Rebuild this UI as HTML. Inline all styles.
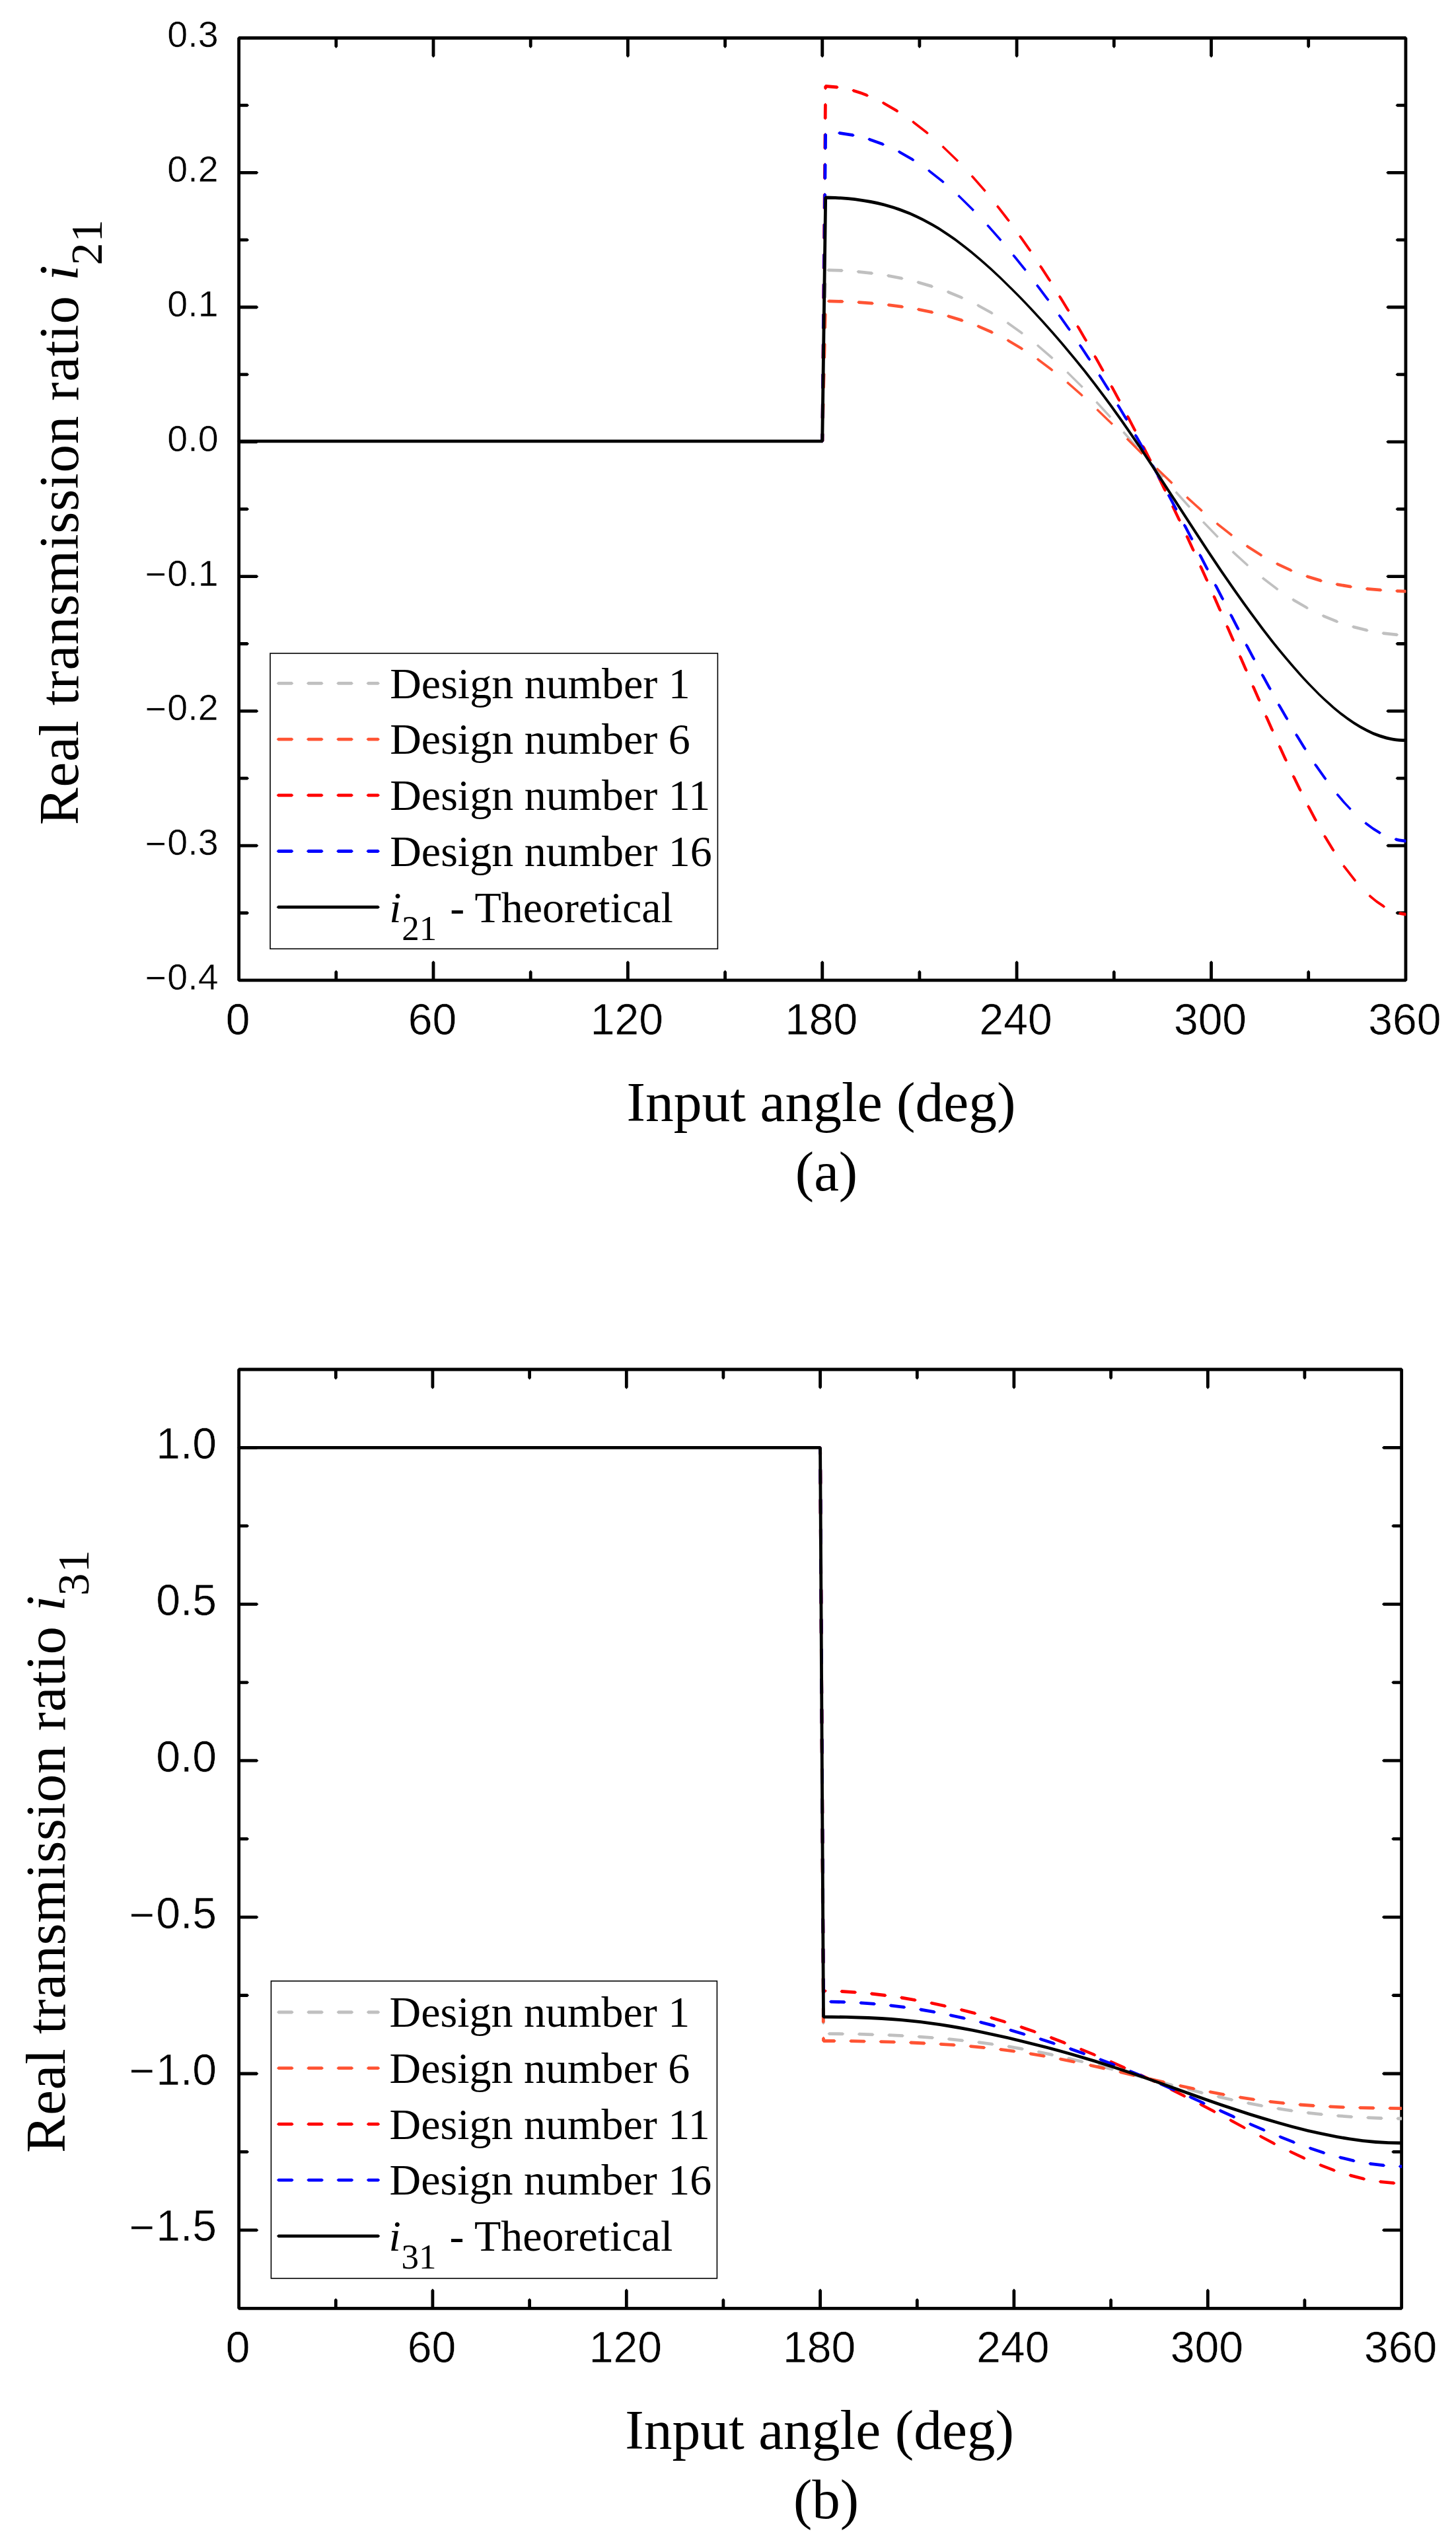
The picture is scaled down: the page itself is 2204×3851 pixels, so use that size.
<!DOCTYPE html>
<html lang="en"><head><meta charset="utf-8"><title>Real transmission ratio</title>
<style>html,body{margin:0;padding:0;background:#fff}svg{display:block}</style></head><body>
<svg width="2204" height="3851" viewBox="0 0 2204 3851">
<rect width="2204" height="3851" fill="#fff"/>
<path d="M359.2 57.5 361.6 55.1 2127.9 55.1 2130.3 57.5 2127.9 59.9 361.6 59.9ZM2127.9 55.1 2130.3 57.5 2130.3 1483.9 2127.9 1486.3 2125.5 1483.9 2125.5 57.5ZM359.2 1483.9 361.6 1481.5 2127.9 1481.5 2130.3 1483.9 2127.9 1486.3 361.6 1486.3ZM361.6 55.1 364 57.5 364 1483.9 361.6 1486.3 359.2 1483.9 359.2 57.5ZM508.8 1468.5 511.2 1470.9 511.2 1483.9 508.8 1486.3 506.4 1483.9 506.4 1470.9ZM508.8 55.1 511.2 57.5 511.2 70.5 508.8 72.9 506.4 70.5 506.4 57.5ZM656 1454.2 658.4 1456.6 658.4 1483.9 656 1486.3 653.6 1483.9 653.6 1456.6ZM656 55.1 658.4 57.5 658.4 84.8 656 87.2 653.6 84.8 653.6 57.5ZM803.2 1468.5 805.6 1470.9 805.6 1483.9 803.2 1486.3 800.8 1483.9 800.8 1470.9ZM803.2 55.1 805.6 57.5 805.6 70.5 803.2 72.9 800.8 70.5 800.8 57.5ZM950.4 1454.2 952.8 1456.6 952.8 1483.9 950.4 1486.3 948 1483.9 948 1456.6ZM950.4 55.1 952.8 57.5 952.8 84.8 950.4 87.2 948 84.8 948 57.5ZM1097.6 1468.5 1100 1470.9 1100 1483.9 1097.6 1486.3 1095.2 1483.9 1095.2 1470.9ZM1097.6 55.1 1100 57.5 1100 70.5 1097.6 72.9 1095.2 70.5 1095.2 57.5ZM1244.8 1454.2 1247.2 1456.6 1247.2 1483.9 1244.8 1486.3 1242.3 1483.9 1242.3 1456.6ZM1244.8 55.1 1247.2 57.5 1247.2 84.8 1244.8 87.2 1242.3 84.8 1242.3 57.5ZM1391.9 1468.5 1394.3 1470.9 1394.3 1483.9 1391.9 1486.3 1389.5 1483.9 1389.5 1470.9ZM1391.9 55.1 1394.3 57.5 1394.3 70.5 1391.9 72.9 1389.5 70.5 1389.5 57.5ZM1539.1 1454.2 1541.5 1456.6 1541.5 1483.9 1539.1 1486.3 1536.7 1483.9 1536.7 1456.6ZM1539.1 55.1 1541.5 57.5 1541.5 84.8 1539.1 87.2 1536.7 84.8 1536.7 57.5ZM1686.3 1468.5 1688.7 1470.9 1688.7 1483.9 1686.3 1486.3 1683.9 1483.9 1683.9 1470.9ZM1686.3 55.1 1688.7 57.5 1688.7 70.5 1686.3 72.9 1683.9 70.5 1683.9 57.5ZM1833.5 1454.2 1835.9 1456.6 1835.9 1483.9 1833.5 1486.3 1831.1 1483.9 1831.1 1456.6ZM1833.5 55.1 1835.9 57.5 1835.9 84.8 1833.5 87.2 1831.1 84.8 1831.1 57.5ZM1980.7 1468.5 1983.1 1470.9 1983.1 1483.9 1980.7 1486.3 1978.3 1483.9 1978.3 1470.9ZM1980.7 55.1 1983.1 57.5 1983.1 70.5 1980.7 72.9 1978.3 70.5 1978.3 57.5ZM359.2 261.3 361.6 258.9 388.9 258.9 391.3 261.3 388.9 263.7 361.6 263.7ZM2098.2 261.3 2100.6 258.9 2127.9 258.9 2130.3 261.3 2127.9 263.7 2100.6 263.7ZM359.2 465 361.6 462.6 388.9 462.6 391.3 465 388.9 467.4 361.6 467.4ZM2098.2 465 2100.6 462.6 2127.9 462.6 2130.3 465 2127.9 467.4 2100.6 467.4ZM359.2 668.8 361.6 666.4 388.9 666.4 391.3 668.8 388.9 671.2 361.6 671.2ZM2098.2 668.8 2100.6 666.4 2127.9 666.4 2130.3 668.8 2127.9 671.2 2100.6 671.2ZM359.2 872.6 361.6 870.2 388.9 870.2 391.3 872.6 388.9 875 361.6 875ZM2098.2 872.6 2100.6 870.2 2127.9 870.2 2130.3 872.6 2127.9 875 2100.6 875ZM359.2 1076.4 361.6 1074 388.9 1074 391.3 1076.4 388.9 1078.8 361.6 1078.8ZM2098.2 1076.4 2100.6 1074 2127.9 1074 2130.3 1076.4 2127.9 1078.8 2100.6 1078.8ZM359.2 1280.1 361.6 1277.7 388.9 1277.7 391.3 1280.1 388.9 1282.5 361.6 1282.5ZM2098.2 1280.1 2100.6 1277.7 2127.9 1277.7 2130.3 1280.1 2127.9 1282.5 2100.6 1282.5ZM359.2 159.4 361.6 157 374.6 157 377 159.4 374.6 161.8 361.6 161.8ZM2112.5 159.4 2114.9 157 2127.9 157 2130.3 159.4 2127.9 161.8 2114.9 161.8ZM359.2 363.2 361.6 360.8 374.6 360.8 377 363.2 374.6 365.6 361.6 365.6ZM2112.5 363.2 2114.9 360.8 2127.9 360.8 2130.3 363.2 2127.9 365.6 2114.9 365.6ZM359.2 566.9 361.6 564.5 374.6 564.5 377 566.9 374.6 569.3 361.6 569.3ZM2112.5 566.9 2114.9 564.5 2127.9 564.5 2130.3 566.9 2127.9 569.3 2114.9 569.3ZM359.2 770.7 361.6 768.3 374.6 768.3 377 770.7 374.6 773.1 361.6 773.1ZM2112.5 770.7 2114.9 768.3 2127.9 768.3 2130.3 770.7 2127.9 773.1 2114.9 773.1ZM359.2 974.5 361.6 972.1 374.6 972.1 377 974.5 374.6 976.9 361.6 976.9ZM2112.5 974.5 2114.9 972.1 2127.9 972.1 2130.3 974.5 2127.9 976.9 2114.9 976.9ZM359.2 1178.2 361.6 1175.8 374.6 1175.8 377 1178.2 374.6 1180.6 361.6 1180.6ZM2112.5 1178.2 2114.9 1175.8 2127.9 1175.8 2130.3 1178.2 2127.9 1180.6 2114.9 1180.6ZM359.2 1382 361.6 1379.6 374.6 1379.6 377 1382 374.6 1384.4 361.6 1384.4ZM2112.5 1382 2114.9 1379.6 2127.9 1379.6 2130.3 1382 2127.9 1384.4 2114.9 1384.4Z" fill="#000"/>
<clipPath id="clipa"><rect x="359.1" y="57.5" width="1769.3" height="1426.4"/></clipPath>
<g clip-path="url(#clipa)">
<path d="M1245 653.9 1247.4 656.3 1247.2 667.8 1244.8 670.2 1242.3 667.8 1242.6 656.3ZM1245.8 608.5 1248.2 610.9 1247.8 631.9 1245.4 634.3 1243 631.9 1243.4 610.9ZM1246.7 563.1 1249.1 565.5 1248.7 586.5 1246.3 588.9 1243.9 586.5 1244.3 565.5ZM1247.5 517.7 1249.9 520.1 1249.5 541.1 1247.1 543.5 1244.7 541.1 1245.1 520.1ZM1248.4 472.3 1250.8 474.7 1250.4 495.7 1248 498.1 1245.6 495.7 1246 474.7ZM1249.3 426.9 1251.7 429.3 1251.3 450.3 1248.9 452.7 1246.5 450.3 1246.9 429.3ZM1251.1 408.9 1253.5 406.5 1274.5 407.1 1276.9 409.5 1274.5 411.9 1253.5 411.3ZM1296.5 411.3 1298.9 408.9 1319.9 411.2 1322.3 413.6 1319.9 416 1298.9 413.7ZM1341.9 417.3 1344.3 414.9 1365.3 419 1367.7 421.4 1365.3 423.8 1344.3 419.7ZM1387.3 427.3 1389.7 424.9 1410.7 431.1 1413.1 433.5 1410.7 435.9 1389.7 429.7ZM1432.7 442 1435.1 439.6 1456.1 448.2 1458.5 450.6 1456.1 453 1435.1 444.4ZM1478.1 462.3 1480.5 459.9 1501.5 471.5 1503.9 473.9 1501.5 476.3 1480.5 464.7ZM1523.4 489.2 1525.8 486.8 1546.8 501.7 1549.2 504.1 1546.8 506.5 1525.8 491.6ZM1568.8 523.3 1571.2 520.9 1592.2 539.1 1594.6 541.5 1592.2 543.9 1571.2 525.7ZM1614.2 564.3 1616.6 561.9 1637.5 582.7 1639.9 585.1 1637.5 587.5 1616.6 566.7ZM1660.7 607.1 1663.1 609.5 1682.3 630.5 1679.9 632.9 1677.5 630.5 1658.3 609.5ZM1701.6 652.5 1704 654.9 1722.4 675.9 1720 678.3 1717.6 675.9 1699.2 654.9ZM1741.2 697.9 1743.6 700.3 1761.9 721.3 1759.5 723.7 1757.1 721.3 1738.8 700.3ZM1780.9 743.3 1783.3 745.7 1802.2 766.7 1799.8 769.1 1797.4 766.7 1778.5 745.7ZM1822.3 788.7 1824.7 791.1 1844.9 812.1 1842.5 814.5 1840.1 812.1 1819.9 791.1ZM1864.5 836 1866.9 833.6 1887.9 852.8 1890.3 855.2 1887.9 857.6 1866.9 838.4ZM1909.8 875.7 1912.2 873.3 1933.2 889.2 1935.6 891.6 1933.2 894 1912.2 878.1ZM1955.2 908 1957.6 905.6 1978.6 917.8 1981 920.2 1978.6 922.6 1957.6 910.4ZM2000.6 932.3 2003 929.9 2024 938.5 2026.4 940.9 2024 943.3 2003 934.7ZM2046 948.9 2048.4 946.5 2069.4 951.8 2071.8 954.2 2069.4 956.6 2048.4 951.3ZM2091.4 958.6 2093.8 956.2 2114.8 958.4 2117.2 960.8 2114.8 963.2 2093.8 961Z" fill="#C0C0C0"/>
<path d="M1245 654.1 1247.4 656.5 1247.2 667.8 1244.8 670.2 1242.3 667.8 1242.6 656.5ZM1246.1 608.8 1248.5 611.2 1248 632.2 1245.6 634.6 1243.2 632.2 1243.7 611.2ZM1247.1 563.6 1249.5 566 1249 587 1246.6 589.4 1244.2 587 1244.7 566ZM1248.2 518.3 1250.6 520.7 1250.1 541.7 1247.7 544.1 1245.3 541.7 1245.8 520.7ZM1249.2 473 1251.6 475.4 1251.1 496.4 1248.7 498.8 1246.3 496.4 1246.8 475.4ZM1251.9 455.9 1254.3 453.5 1275.3 454 1277.7 456.4 1275.3 458.8 1254.3 458.3ZM1297.2 457.6 1299.6 455.2 1320.6 456.8 1323 459.2 1320.6 461.6 1299.6 460ZM1342.5 461.7 1344.9 459.3 1365.9 462 1368.3 464.4 1365.9 466.8 1344.9 464.1ZM1387.7 468.4 1390.1 466 1411.1 470.3 1413.5 472.7 1411.1 475.1 1390.1 470.8ZM1433 478.7 1435.4 476.3 1456.4 482.6 1458.8 485 1456.4 487.4 1435.4 481.1ZM1478.3 493.9 1480.7 491.5 1501.7 500.6 1504.1 503 1501.7 505.4 1480.7 496.3ZM1523.5 515.4 1525.9 513 1546.9 525.4 1549.3 527.8 1546.9 530.2 1525.9 517.8ZM1568.8 544.1 1571.2 541.7 1592.2 557.5 1594.6 559.9 1592.2 562.3 1571.2 546.5ZM1614.1 579.7 1616.5 577.3 1637.5 595.8 1639.9 598.2 1637.5 600.6 1616.5 582.1ZM1659.3 620.8 1661.7 618.4 1682.7 638.7 1685.1 641.1 1682.7 643.5 1661.7 623.2ZM1704.6 665.1 1707 662.7 1728 683.6 1730.4 686 1728 688.4 1707 667.5ZM1749.8 710.1 1752.2 707.7 1773.2 728.1 1775.6 730.5 1773.2 732.9 1752.2 712.5ZM1795.1 753.5 1797.5 751.1 1818.5 770.1 1820.9 772.5 1818.5 774.9 1797.5 755.9ZM1840.4 793.1 1842.8 790.7 1863.8 807.2 1866.2 809.6 1863.8 812 1842.8 795.5ZM1885.6 827 1888 824.6 1909 837.9 1911.4 840.3 1909 842.7 1888 829.4ZM1930.9 853.7 1933.3 851.3 1954.3 861 1956.7 863.4 1954.3 865.8 1933.3 856.1ZM1976.2 872.7 1978.6 870.3 1999.6 876.6 2002 879 1999.6 881.4 1978.6 875.1ZM2021.4 884.6 2023.8 882.2 2044.8 885.8 2047.2 888.2 2044.8 890.6 2023.8 887ZM2066.7 891.3 2069.1 888.9 2090.1 890.8 2092.5 893.2 2090.1 895.6 2069.1 893.7ZM2112 894.6 2114.4 892.2 2127.9 892.8 2130.3 895.2 2127.9 897.6 2114.4 897Z" fill="#FF5333"/>
<path d="M1244.8 655.2 1247.2 657.6 1247.2 667.8 1244.8 670.2 1242.3 667.8 1242.4 657.6ZM1245.3 609.8 1247.7 612.2 1247.5 633.2 1245.1 635.6 1242.7 633.2 1242.9 612.2ZM1245.7 564.4 1248.1 566.8 1247.9 587.8 1245.5 590.2 1243.1 587.8 1243.3 566.8ZM1246.1 519 1248.5 521.4 1248.3 542.4 1245.9 544.8 1243.5 542.4 1243.7 521.4ZM1246.5 473.6 1248.9 476 1248.7 497 1246.3 499.4 1243.9 497 1244.1 476ZM1246.9 428.2 1249.3 430.6 1249.1 451.6 1246.7 454 1244.3 451.6 1244.5 430.6ZM1247.3 382.8 1249.7 385.2 1249.5 406.2 1247.1 408.6 1244.7 406.2 1244.9 385.2ZM1247.7 337.4 1250.1 339.8 1250 360.8 1247.6 363.2 1245.2 360.8 1245.3 339.8ZM1248.2 292 1250.6 294.4 1250.4 315.4 1248 317.8 1245.6 315.4 1245.8 294.4ZM1248.6 246.6 1251 249 1250.8 270 1248.4 272.4 1246 270 1246.2 249ZM1249 201.2 1251.4 203.6 1251.2 224.6 1248.8 227 1246.4 224.6 1246.6 203.6ZM1249.4 155.8 1251.8 158.2 1251.6 179.2 1249.2 181.6 1246.8 179.2 1247 158.2ZM1249.7 128.1 1252.1 130.5 1252 133.8 1249.6 136.2 1247.2 133.8 1247.3 130.5ZM1247.3 130.5 1249.7 128.1 1267.3 129.6 1269.7 132 1267.3 134.4 1249.7 132.9ZM1289.3 137.1 1291.7 134.7 1303.6 138.5 1306 140.9 1303.6 143.3 1291.7 139.5ZM1301.2 140.9 1303.6 138.5 1312.7 142 1315.1 144.4 1312.7 146.8 1303.6 143.3ZM1334.7 155.8 1337.1 153.4 1358.1 165.6 1360.5 168 1358.1 170.4 1337.1 158.2ZM1380.1 184.8 1382.5 182.4 1403.5 198.8 1405.9 201.2 1403.5 203.6 1382.5 187.2ZM1425.5 222.6 1427.9 220.2 1448.9 240.5 1451.3 242.9 1448.9 245.3 1427.9 225ZM1472 264.9 1474.4 267.3 1492.8 288.3 1490.4 290.7 1488 288.3 1469.6 267.3ZM1510.4 310.3 1512.8 312.7 1529 333.7 1526.6 336.1 1524.2 333.7 1508 312.7ZM1544.4 355.7 1546.8 358.1 1561.5 379.1 1559.1 381.5 1556.7 379.1 1542 358.1ZM1575.4 401.1 1577.8 403.5 1591.4 424.5 1589 426.9 1586.6 424.5 1573 403.5ZM1604.3 446.5 1606.7 448.9 1619.5 469.9 1617.1 472.3 1614.7 469.9 1601.9 448.9ZM1631.6 491.9 1634 494.3 1646.2 515.3 1643.8 517.7 1641.4 515.3 1629.2 494.3ZM1657.7 537.3 1660.1 539.7 1671.8 560.7 1669.4 563.1 1667 560.7 1655.3 539.7ZM1682.8 582.7 1685.2 585.1 1696.5 606.1 1694.1 608.5 1691.7 606.1 1680.4 585.1ZM1707.1 628.1 1709.5 630.5 1720.4 651.5 1718 653.9 1715.6 651.5 1704.7 630.5ZM1730.6 673.5 1733 675.9 1743.6 696.9 1741.2 699.3 1738.8 696.9 1728.2 675.9ZM1753.3 718.9 1755.7 721.3 1766 742.3 1763.6 744.7 1761.2 742.3 1750.9 721.3ZM1775.4 764.3 1777.8 766.7 1787.8 787.7 1785.4 790.1 1783 787.7 1773 766.7ZM1796.8 809.7 1799.2 812.1 1808.8 833.1 1806.4 835.5 1804 833.1 1794.4 812.1ZM1817.5 855.1 1819.9 857.5 1829.4 878.5 1827 880.9 1824.6 878.5 1815.1 857.5ZM1837.8 900.5 1840.2 902.9 1849.4 923.9 1847 926.3 1844.6 923.9 1835.4 902.9ZM1857.7 945.9 1860.1 948.3 1869.2 969.3 1866.8 971.7 1864.4 969.3 1855.3 948.3ZM1877.3 991.3 1879.7 993.7 1888.8 1014.7 1886.4 1017.1 1884 1014.7 1874.9 993.7ZM1896.9 1036.7 1899.3 1039.1 1908.5 1060.1 1906.1 1062.5 1903.7 1060.1 1894.5 1039.1ZM1916.7 1082.1 1919.1 1084.5 1928.4 1105.5 1926 1107.9 1923.6 1105.5 1914.3 1084.5ZM1937 1127.5 1939.4 1129.9 1949 1150.9 1946.6 1153.3 1944.2 1150.9 1934.6 1129.9ZM1958.1 1172.9 1960.5 1175.3 1970.7 1196.3 1968.3 1198.7 1965.9 1196.3 1955.7 1175.3ZM1980.6 1218.3 1983 1220.7 1994.1 1241.7 1991.7 1244.1 1989.3 1241.7 1978.2 1220.7ZM2005.5 1263.7 2007.9 1266.1 2020.6 1287.1 2018.2 1289.5 2015.8 1287.1 2003.1 1266.1ZM2034.6 1309.1 2037 1311.5 2053.3 1332.5 2050.9 1334.9 2048.5 1332.5 2032.2 1311.5ZM2071.4 1356.5 2073.8 1354.1 2083.7 1362.3 2086.1 1364.7 2083.7 1367.1 2073.8 1358.9ZM2081.3 1364.7 2083.7 1362.3 2094.8 1369.8 2097.2 1372.2 2094.8 1374.6 2083.7 1367.1ZM2116.8 1382.6 2119.2 1380.2 2127.9 1381.8 2130.3 1384.2 2127.9 1386.6 2119.2 1385Z" fill="#FF0000"/>
<path d="M1244.9 654.6 1247.3 657 1247.2 667.8 1244.8 670.2 1242.3 667.8 1242.5 657ZM1245.3 609.2 1247.7 611.6 1247.5 632.6 1245.1 635 1242.7 632.6 1242.9 611.6ZM1245.8 563.9 1248.2 566.3 1248 587.3 1245.6 589.7 1243.2 587.3 1243.4 566.3ZM1246.3 518.6 1248.7 521 1248.5 542 1246.1 544.4 1243.7 542 1243.9 521ZM1246.8 473.2 1249.2 475.6 1248.9 496.6 1246.5 499 1244.1 496.6 1244.4 475.6ZM1247.2 427.9 1249.6 430.3 1249.4 451.3 1247 453.7 1244.6 451.3 1244.8 430.3ZM1247.7 382.6 1250.1 385 1249.9 406 1247.5 408.4 1245.1 406 1245.3 385ZM1248.2 337.2 1250.6 339.6 1250.4 360.6 1248 363 1245.6 360.6 1245.8 339.6ZM1248.7 291.9 1251.1 294.3 1250.8 315.3 1248.4 317.7 1246 315.3 1246.3 294.3ZM1249.1 246.6 1251.5 249 1251.3 270 1248.9 272.4 1246.5 270 1246.7 249ZM1249.6 201.2 1252 203.6 1251.8 224.6 1249.4 227 1247 224.6 1247.2 203.6ZM1268 201.4 1270.4 199 1291.4 202.3 1293.8 204.7 1291.4 207.1 1270.4 203.8ZM1313.3 210.9 1315.7 208.5 1336.7 216 1339.1 218.4 1336.7 220.8 1315.7 213.3ZM1358.7 229.8 1361.1 227.4 1382.1 239.5 1384.5 241.9 1382.1 244.3 1361.1 232.2ZM1404 258.6 1406.4 256.2 1427.4 272.8 1429.8 275.2 1427.4 277.6 1406.4 261ZM1449.3 296.9 1451.7 294.5 1472.6 315.1 1475 317.5 1472.6 319.9 1451.7 299.3ZM1495.6 339.4 1498 341.8 1516.5 362.8 1514.1 365.2 1511.7 362.8 1493.2 341.8ZM1534.6 384.7 1537 387.1 1553.9 408.1 1551.5 410.5 1549.1 408.1 1532.2 387.1ZM1570.4 430.1 1572.8 432.5 1588.5 453.5 1586.1 455.9 1583.7 453.5 1568 432.5ZM1603.8 475.4 1606.2 477.8 1621 498.8 1618.6 501.2 1616.2 498.8 1601.4 477.8ZM1635.2 520.7 1637.6 523.1 1651.4 544.1 1649 546.5 1646.6 544.1 1632.8 523.1ZM1664.7 566.1 1667.1 568.5 1680.2 589.5 1677.8 591.9 1675.4 589.5 1662.3 568.5ZM1692.6 611.4 1695 613.8 1707.5 634.8 1705.1 637.2 1702.7 634.8 1690.2 613.8ZM1719.1 656.7 1721.5 659.1 1733.5 680.1 1731.1 682.5 1728.7 680.1 1716.7 659.1ZM1744.6 702.1 1747 704.5 1758.5 725.5 1756.1 727.9 1753.7 725.5 1742.2 704.5ZM1769.2 747.4 1771.6 749.8 1782.7 770.8 1780.3 773.2 1777.9 770.8 1766.8 749.8ZM1793.1 792.7 1795.5 795.1 1806.5 816.1 1804.1 818.5 1801.7 816.1 1790.7 795.1ZM1816.7 838.1 1819.1 840.5 1829.9 861.5 1827.5 863.9 1825.1 861.5 1814.3 840.5ZM1840 883.4 1842.4 885.8 1853.2 906.8 1850.8 909.2 1848.4 906.8 1837.6 885.8ZM1863.4 928.7 1865.8 931.1 1876.6 952.1 1874.2 954.5 1871.8 952.1 1861 931.1ZM1886.9 974.1 1889.3 976.5 1900.4 997.5 1898 999.9 1895.6 997.5 1884.5 976.5ZM1911 1019.4 1913.4 1021.8 1924.9 1042.8 1922.5 1045.2 1920.1 1042.8 1908.6 1021.8ZM1936 1064.7 1938.4 1067.1 1950.5 1088.1 1948.1 1090.5 1945.7 1088.1 1933.6 1067.1ZM1962.5 1110.1 1964.9 1112.5 1977.8 1133.5 1975.4 1135.9 1973 1133.5 1960.1 1112.5ZM1991.3 1155.4 1993.7 1157.8 2008.5 1178.8 2006.1 1181.2 2003.7 1178.8 1988.9 1157.8ZM2024.8 1200.7 2027.2 1203.1 2037.1 1214.7 2034.7 1217.1 2032.3 1214.7 2022.4 1203.1ZM2034.7 1212.3 2037.1 1214.7 2045.8 1224.1 2043.4 1226.5 2041 1224.1 2032.3 1214.7ZM2065.2 1246.4 2067.6 1244 2078.8 1252.2 2081.2 1254.6 2078.8 1257 2067.6 1248.8ZM2076.4 1254.6 2078.8 1252.2 2088.6 1258.2 2091 1260.6 2088.6 1263 2078.8 1257ZM2110.5 1270.6 2112.9 1268.2 2118.1 1269.4 2120.5 1271.8 2118.1 1274.2 2112.9 1273ZM2115.7 1271.8 2118.1 1269.4 2127.9 1270.7 2130.3 1273.1 2127.9 1275.5 2118.1 1274.2Z" fill="#0000FF"/>
<path d="M359.2 667.8 361.6 665.4 1244.8 665.4 1247.2 667.8 1244.8 670.2 361.6 670.2ZM1249.7 296.6 1252.1 299 1247.2 667.8 1244.8 670.2 1242.3 667.8 1247.3 299ZM1247.3 299 1249.7 296.6 1264.4 297 1266.8 299.4 1264.4 301.8 1249.7 301.4ZM1262 299.4 1264.4 297 1274.2 297.5 1276.6 299.9 1274.2 302.3 1264.4 301.8ZM1271.8 299.9 1274.2 297.5 1284 298.3 1286.4 300.7 1284 303.1 1274.2 302.3ZM1281.6 300.7 1284 298.3 1293.8 299.3 1296.2 301.7 1293.8 304.1 1284 303.1ZM1291.4 301.7 1293.8 299.3 1308.5 301.4 1310.9 303.8 1308.5 306.2 1293.8 304.1ZM1306.1 303.8 1308.5 301.4 1318.3 303.1 1320.7 305.5 1318.3 307.9 1308.5 306.2ZM1315.9 305.5 1318.3 303.1 1328.2 305.1 1330.6 307.5 1328.2 309.9 1318.3 307.9ZM1325.8 307.5 1328.2 305.1 1338 307.5 1340.4 309.9 1338 312.3 1328.2 309.9ZM1335.6 309.9 1338 307.5 1352.7 311.7 1355.1 314.1 1352.7 316.5 1338 312.3ZM1350.3 314.1 1352.7 311.7 1362.5 315.1 1364.9 317.5 1362.5 319.9 1352.7 316.5ZM1360.1 317.5 1362.5 315.1 1377.2 320.8 1379.6 323.2 1377.2 325.6 1362.5 319.9ZM1374.8 323.2 1377.2 320.8 1387 325.2 1389.4 327.6 1387 330 1377.2 325.6ZM1384.6 327.6 1387 325.2 1396.8 329.9 1399.2 332.3 1396.8 334.7 1387 330ZM1394.4 332.3 1396.8 329.9 1411.6 337.9 1414 340.3 1411.6 342.7 1396.8 334.7ZM1409.2 340.3 1411.6 337.9 1421.4 343.8 1423.8 346.2 1421.4 348.6 1411.6 342.7ZM1419 346.2 1421.4 343.8 1436.1 353.4 1438.5 355.8 1436.1 358.2 1421.4 348.6ZM1433.7 355.8 1436.1 353.4 1445.9 360.3 1448.3 362.7 1445.9 365.1 1436.1 358.2ZM1443.5 362.7 1445.9 360.3 1460.6 371.4 1463 373.8 1460.6 376.2 1445.9 365.1ZM1458.2 373.8 1460.6 371.4 1470.4 379.3 1472.8 381.7 1470.4 384.1 1460.6 376.2ZM1468 381.7 1470.4 379.3 1485.2 391.7 1487.6 394.1 1485.2 396.5 1470.4 384.1ZM1482.8 394.1 1485.2 391.7 1499.9 404.8 1502.3 407.2 1499.9 409.6 1485.2 396.5ZM1497.5 407.2 1499.9 404.8 1514.6 418.5 1517 420.9 1514.6 423.3 1499.9 409.6ZM1512.2 420.9 1514.6 418.5 1529.3 432.9 1531.7 435.3 1529.3 437.7 1514.6 423.3ZM1529.3 432.9 1531.7 435.3 1546.4 450.1 1544 452.5 1541.6 450.1 1526.9 435.3ZM1544 447.7 1546.4 450.1 1561.2 465.4 1558.8 467.8 1556.4 465.4 1541.6 450.1ZM1558.8 463 1561.2 465.4 1580.8 486.7 1578.4 489.1 1576 486.7 1556.4 465.4ZM1578.4 484.3 1580.8 486.7 1595.5 503.2 1593.1 505.6 1590.7 503.2 1576 486.7ZM1593.1 500.8 1595.5 503.2 1610.2 520.2 1607.8 522.6 1605.4 520.2 1590.7 503.2ZM1607.8 517.8 1610.2 520.2 1629.8 543.7 1627.4 546.1 1625 543.7 1605.4 520.2ZM1627.4 541.3 1629.8 543.7 1644.6 562 1642.2 564.4 1639.8 562 1625 543.7ZM1642.2 559.6 1644.6 562 1659.3 580.9 1656.9 583.3 1654.5 580.9 1639.8 562ZM1656.9 578.5 1659.3 580.9 1674 600.4 1671.6 602.8 1669.2 600.4 1654.5 580.9ZM1671.6 598 1674 600.4 1683.8 613.8 1681.4 616.2 1679 613.8 1669.2 600.4ZM1681.4 611.4 1683.8 613.8 1698.5 634.3 1696.1 636.7 1693.7 634.3 1679 613.8ZM1696.1 631.9 1698.5 634.3 1713.3 655.4 1710.9 657.8 1708.5 655.4 1693.7 634.3ZM1710.9 653 1713.3 655.4 1728 677 1725.6 679.4 1723.2 677 1708.5 655.4ZM1725.6 674.6 1728 677 1757.4 721.4 1755 723.8 1752.6 721.4 1723.2 677ZM1755 719 1757.4 721.4 1811.4 804.5 1809 806.9 1806.6 804.5 1752.6 721.4ZM1809 802.1 1811.4 804.5 1831 834.4 1828.6 836.8 1826.2 834.4 1806.6 804.5ZM1828.6 832 1831 834.4 1850.6 863.7 1848.2 866.1 1845.8 863.7 1826.2 834.4ZM1848.2 861.3 1850.6 863.7 1870.3 892.2 1867.9 894.6 1865.5 892.2 1845.8 863.7ZM1867.9 889.8 1870.3 892.2 1885 913.1 1882.6 915.5 1880.2 913.1 1865.5 892.2ZM1882.6 910.7 1885 913.1 1894.8 926.6 1892.4 929 1890 926.6 1880.2 913.1ZM1892.4 924.2 1894.8 926.6 1914.4 953 1912 955.4 1909.6 953 1890 926.6ZM1912 950.6 1914.4 953 1929.1 971.9 1926.7 974.3 1924.3 971.9 1909.6 953ZM1926.7 969.5 1929.1 971.9 1939 984.2 1936.6 986.6 1934.2 984.2 1924.3 971.9ZM1936.6 981.8 1939 984.2 1948.8 996.1 1946.4 998.5 1944 996.1 1934.2 984.2ZM1946.4 993.7 1948.8 996.1 1958.6 1007.6 1956.2 1010 1953.8 1007.6 1944 996.1ZM1956.2 1005.2 1958.6 1007.6 1973.3 1024.2 1970.9 1026.6 1968.5 1024.2 1953.8 1007.6ZM1970.9 1021.8 1973.3 1024.2 1983.1 1034.8 1980.7 1037.2 1978.3 1034.8 1968.5 1024.2ZM1980.7 1032.4 1983.1 1034.8 1997.8 1049.8 1995.4 1052.2 1993 1049.8 1978.3 1034.8ZM1993 1049.8 1995.4 1047.4 2005.2 1056.8 2007.6 1059.2 2005.2 1061.6 1995.4 1052.2ZM2002.8 1059.2 2005.2 1056.8 2015.1 1065.6 2017.5 1068 2015.1 1070.4 2005.2 1061.6ZM2012.7 1068 2015.1 1065.6 2020 1069.9 2022.4 1072.3 2020 1074.7 2015.1 1070.4ZM2017.6 1072.3 2020 1069.9 2029.8 1077.9 2032.2 1080.3 2029.8 1082.7 2020 1074.7ZM2027.4 1080.3 2029.8 1077.9 2039.6 1085.3 2042 1087.7 2039.6 1090.1 2029.8 1082.7ZM2037.2 1087.7 2039.6 1085.3 2049.4 1092 2051.8 1094.4 2049.4 1096.8 2039.6 1090.1ZM2047 1094.4 2049.4 1092 2059.2 1098 2061.6 1100.4 2059.2 1102.8 2049.4 1096.8ZM2056.8 1100.4 2059.2 1098 2069 1103.3 2071.4 1105.7 2069 1108.1 2059.2 1102.8ZM2066.6 1105.7 2069 1103.3 2078.8 1107.9 2081.2 1110.3 2078.8 1112.7 2069 1108.1ZM2076.4 1110.3 2078.8 1107.9 2088.6 1111.6 2091 1114 2088.6 1116.4 2078.8 1112.7ZM2086.2 1114 2088.6 1111.6 2098.5 1114.6 2100.9 1117 2098.5 1119.4 2088.6 1116.4ZM2096.1 1117 2098.5 1114.6 2103.4 1115.7 2105.8 1118.1 2103.4 1120.5 2098.5 1119.4ZM2101 1118.1 2103.4 1115.7 2108.3 1116.7 2110.7 1119.1 2108.3 1121.5 2103.4 1120.5ZM2105.9 1119.1 2108.3 1116.7 2113.2 1117.4 2115.6 1119.8 2113.2 1122.2 2108.3 1121.5ZM2110.8 1119.8 2113.2 1117.4 2118.1 1117.9 2120.5 1120.3 2118.1 1122.7 2113.2 1122.2ZM2115.7 1120.3 2118.1 1117.9 2123 1118.2 2125.4 1120.6 2123 1123 2118.1 1122.7ZM2120.6 1120.6 2123 1118.2 2127.9 1118.3 2130.3 1120.7 2127.9 1123.1 2123 1123Z" fill="#000"/>
</g>
<g font-family="'Liberation Sans', Arial, sans-serif" font-size="55.5" text-anchor="end" stroke="#fff" stroke-width="0.5">
<text x="330.5" y="71.4">0.3</text>
<text x="330.5" y="275.1">0.2</text>
<text x="330.5" y="478.9">0.1</text>
<text x="330.5" y="682.7">0.0</text>
<text x="332.1" y="886.5"><tspan dx="-1.6" dy="1.6">−</tspan><tspan dx="1.6" dy="-1.6">0.1</tspan></text>
<text x="332.1" y="1090.2"><tspan dx="-1.6" dy="1.6">−</tspan><tspan dx="1.6" dy="-1.6">0.2</tspan></text>
<text x="332.1" y="1294.0"><tspan dx="-1.6" dy="1.6">−</tspan><tspan dx="1.6" dy="-1.6">0.3</tspan></text>
<text x="332.1" y="1497.8"><tspan dx="-1.6" dy="1.6">−</tspan><tspan dx="1.6" dy="-1.6">0.4</tspan></text>
</g>
<g font-family="'Liberation Sans', Arial, sans-serif" font-size="66" text-anchor="middle" stroke="#fff" stroke-width="0.5">
<text x="360.1" y="1565.5">0</text>
<text x="654.5" y="1565.5">60</text>
<text x="948.9" y="1565.5">120</text>
<text x="1243.2" y="1565.5">180</text>
<text x="1537.6" y="1565.5">240</text>
<text x="1832.0" y="1565.5">300</text>
<text x="2126.4" y="1565.5">360</text>
</g>
<rect x="409.0" y="989.0" width="677.4" height="447.3" fill="#fff" stroke="#000" stroke-width="1.6"/>
<g font-family="'Liberation Serif', 'Times New Roman', serif" font-size="66">
<path d="M418.6 1034.4 421 1032 442 1032 444.4 1034.4 442 1036.8 421 1036.8ZM463.9 1034.4 466.3 1032 487.3 1032 489.7 1034.4 487.3 1036.8 466.3 1036.8ZM509.2 1034.4 511.6 1032 532.6 1032 535 1034.4 532.6 1036.8 511.6 1036.8ZM554.5 1034.4 556.9 1032 572.6 1032 575 1034.4 572.6 1036.8 556.9 1036.8Z" fill="#C0C0C0"/>
<text x="590.2" y="1056.7">Design number 1</text>
<path d="M418.6 1119.1 421 1116.7 442 1116.7 444.4 1119.1 442 1121.5 421 1121.5ZM463.9 1119.1 466.3 1116.7 487.3 1116.7 489.7 1119.1 487.3 1121.5 466.3 1121.5ZM509.2 1119.1 511.6 1116.7 532.6 1116.7 535 1119.1 532.6 1121.5 511.6 1121.5ZM554.5 1119.1 556.9 1116.7 572.6 1116.7 575 1119.1 572.6 1121.5 556.9 1121.5Z" fill="#FF5333"/>
<text x="590.2" y="1141.4">Design number 6</text>
<path d="M418.6 1203.8 421 1201.4 442 1201.4 444.4 1203.8 442 1206.2 421 1206.2ZM463.9 1203.8 466.3 1201.4 487.3 1201.4 489.7 1203.8 487.3 1206.2 466.3 1206.2ZM509.2 1203.8 511.6 1201.4 532.6 1201.4 535 1203.8 532.6 1206.2 511.6 1206.2ZM554.5 1203.8 556.9 1201.4 572.6 1201.4 575 1203.8 572.6 1206.2 556.9 1206.2Z" fill="#FF0000"/>
<text x="590.2" y="1226.1">Design number 11</text>
<path d="M418.6 1288.5 421 1286.1 442 1286.1 444.4 1288.5 442 1290.9 421 1290.9ZM463.9 1288.5 466.3 1286.1 487.3 1286.1 489.7 1288.5 487.3 1290.9 466.3 1290.9ZM509.2 1288.5 511.6 1286.1 532.6 1286.1 535 1288.5 532.6 1290.9 511.6 1290.9ZM554.5 1288.5 556.9 1286.1 572.6 1286.1 575 1288.5 572.6 1290.9 556.9 1290.9Z" fill="#0000FF"/>
<text x="590.2" y="1310.8">Design number 16</text>
<path d="M418.6 1373.2 421 1370.8 572.6 1370.8 575 1373.2 572.6 1375.6 421 1375.6Z" fill="#000"/>
<text x="589.2" y="1395.5" font-style="italic">i</text>
<text x="608.2" y="1422.7" font-size="53">21</text>
<text x="681.2" y="1395.5">- Theoretical</text>
</g>
<g transform="translate(118.0 1249.0) rotate(-90)" font-family="'Liberation Serif', 'Times New Roman', serif" font-size="85">
<text x="0" y="0" textLength="801.0" lengthAdjust="spacing">Real transmission ratio</text>
<text x="824.0" y="0" font-style="italic">i</text>
<text x="847.5" y="35.6" font-size="68">2</text>
<text x="882.5" y="35.6" font-size="68">1</text>
</g>
<g font-family="'Liberation Serif', 'Times New Roman', serif" font-size="85" text-anchor="middle">
<text x="1243.0" y="1697.4" font-size="85.5">Input angle (deg)</text>
<text x="1251.0" y="1802.0">(a)</text>
</g>
<path d="M359.2 2073 361.6 2070.6 2121.6 2070.6 2124 2073 2121.6 2075.4 361.6 2075.4ZM2121.6 2070.6 2124 2073 2124 3494.3 2121.6 3496.7 2119.2 3494.3 2119.2 2073ZM359.2 3494.3 361.6 3491.9 2121.6 3491.9 2124 3494.3 2121.6 3496.7 361.6 3496.7ZM361.6 2070.6 364 2073 364 3494.3 361.6 3496.7 359.2 3494.3 359.2 2073ZM508.3 3478.9 510.7 3481.3 510.7 3494.3 508.3 3496.7 505.9 3494.3 505.9 3481.3ZM508.3 2070.6 510.7 2073 510.7 2086 508.3 2088.4 505.9 2086 505.9 2073ZM654.9 3464.6 657.3 3467 657.3 3494.3 654.9 3496.7 652.5 3494.3 652.5 3467ZM654.9 2070.6 657.3 2073 657.3 2100.3 654.9 2102.7 652.5 2100.3 652.5 2073ZM801.6 3478.9 804 3481.3 804 3494.3 801.6 3496.7 799.2 3494.3 799.2 3481.3ZM801.6 2070.6 804 2073 804 2086 801.6 2088.4 799.2 2086 799.2 2073ZM948.3 3464.6 950.7 3467 950.7 3494.3 948.3 3496.7 945.9 3494.3 945.9 3467ZM948.3 2070.6 950.7 2073 950.7 2100.3 948.3 2102.7 945.9 2100.3 945.9 2073ZM1094.9 3478.9 1097.3 3481.3 1097.3 3494.3 1094.9 3496.7 1092.5 3494.3 1092.5 3481.3ZM1094.9 2070.6 1097.3 2073 1097.3 2086 1094.9 2088.4 1092.5 2086 1092.5 2073ZM1241.6 3464.6 1244 3467 1244 3494.3 1241.6 3496.7 1239.2 3494.3 1239.2 3467ZM1241.6 2070.6 1244 2073 1244 2100.3 1241.6 2102.7 1239.2 2100.3 1239.2 2073ZM1388.3 3478.9 1390.7 3481.3 1390.7 3494.3 1388.3 3496.7 1385.9 3494.3 1385.9 3481.3ZM1388.3 2070.6 1390.7 2073 1390.7 2086 1388.3 2088.4 1385.9 2086 1385.9 2073ZM1534.9 3464.6 1537.3 3467 1537.3 3494.3 1534.9 3496.7 1532.5 3494.3 1532.5 3467ZM1534.9 2070.6 1537.3 2073 1537.3 2100.3 1534.9 2102.7 1532.5 2100.3 1532.5 2073ZM1681.6 3478.9 1684 3481.3 1684 3494.3 1681.6 3496.7 1679.2 3494.3 1679.2 3481.3ZM1681.6 2070.6 1684 2073 1684 2086 1681.6 2088.4 1679.2 2086 1679.2 2073ZM1828.3 3464.6 1830.7 3467 1830.7 3494.3 1828.3 3496.7 1825.9 3494.3 1825.9 3467ZM1828.3 2070.6 1830.7 2073 1830.7 2100.3 1828.3 2102.7 1825.9 2100.3 1825.9 2073ZM1974.9 3478.9 1977.3 3481.3 1977.3 3494.3 1974.9 3496.7 1972.5 3494.3 1972.5 3481.3ZM1974.9 2070.6 1977.3 2073 1977.3 2086 1974.9 2088.4 1972.5 2086 1972.5 2073ZM359.2 2191.4 361.6 2189 388.9 2189 391.3 2191.4 388.9 2193.8 361.6 2193.8ZM2091.9 2191.4 2094.3 2189 2121.6 2189 2124 2191.4 2121.6 2193.8 2094.3 2193.8ZM359.2 2428.3 361.6 2425.9 388.9 2425.9 391.3 2428.3 388.9 2430.7 361.6 2430.7ZM2091.9 2428.3 2094.3 2425.9 2121.6 2425.9 2124 2428.3 2121.6 2430.7 2094.3 2430.7ZM359.2 2665.2 361.6 2662.8 388.9 2662.8 391.3 2665.2 388.9 2667.6 361.6 2667.6ZM2091.9 2665.2 2094.3 2662.8 2121.6 2662.8 2124 2665.2 2121.6 2667.6 2094.3 2667.6ZM359.2 2902.1 361.6 2899.7 388.9 2899.7 391.3 2902.1 388.9 2904.5 361.6 2904.5ZM2091.9 2902.1 2094.3 2899.7 2121.6 2899.7 2124 2902.1 2121.6 2904.5 2094.3 2904.5ZM359.2 3139 361.6 3136.6 388.9 3136.6 391.3 3139 388.9 3141.4 361.6 3141.4ZM2091.9 3139 2094.3 3136.6 2121.6 3136.6 2124 3139 2121.6 3141.4 2094.3 3141.4ZM359.2 3375.9 361.6 3373.5 388.9 3373.5 391.3 3375.9 388.9 3378.3 361.6 3378.3ZM2091.9 3375.9 2094.3 3373.5 2121.6 3373.5 2124 3375.9 2121.6 3378.3 2094.3 3378.3ZM359.2 2309.9 361.6 2307.5 374.6 2307.5 377 2309.9 374.6 2312.3 361.6 2312.3ZM2106.2 2309.9 2108.6 2307.5 2121.6 2307.5 2124 2309.9 2121.6 2312.3 2108.6 2312.3ZM359.2 2546.8 361.6 2544.4 374.6 2544.4 377 2546.8 374.6 2549.2 361.6 2549.2ZM2106.2 2546.8 2108.6 2544.4 2121.6 2544.4 2124 2546.8 2121.6 2549.2 2108.6 2549.2ZM359.2 2783.7 361.6 2781.2 374.6 2781.2 377 2783.7 374.6 2786.1 361.6 2786.1ZM2106.2 2783.7 2108.6 2781.2 2121.6 2781.2 2124 2783.7 2121.6 2786.1 2108.6 2786.1ZM359.2 3020.5 361.6 3018.1 374.6 3018.1 377 3020.5 374.6 3022.9 361.6 3022.9ZM2106.2 3020.5 2108.6 3018.1 2121.6 3018.1 2124 3020.5 2121.6 3022.9 2108.6 3022.9ZM359.2 3257.4 361.6 3255 374.6 3255 377 3257.4 374.6 3259.8 361.6 3259.8ZM2106.2 3257.4 2108.6 3255 2121.6 3255 2124 3257.4 2121.6 3259.8 2108.6 3259.8Z" fill="#000"/>
<clipPath id="clipb"><rect x="359.1" y="2073.0" width="1763.0" height="1421.3"/></clipPath>
<g clip-path="url(#clipb)">
<path d="M1241.6 2189 1244 2191.4 1244.1 2201.8 1241.7 2204.2 1239.3 2201.8 1239.2 2191.4ZM1241.8 2223.7 1244.2 2226.1 1244.3 2247.1 1241.9 2249.5 1239.5 2247.1 1239.4 2226.1ZM1242 2269 1244.4 2271.4 1244.6 2292.4 1242.2 2294.8 1239.8 2292.4 1239.6 2271.4ZM1242.3 2314.3 1244.7 2316.7 1244.8 2337.7 1242.4 2340.1 1240 2337.7 1239.9 2316.7ZM1242.5 2359.6 1244.9 2362 1245.1 2383 1242.7 2385.4 1240.3 2383 1240.1 2362ZM1242.8 2405 1245.2 2407.4 1245.3 2428.4 1242.9 2430.8 1240.5 2428.4 1240.4 2407.4ZM1243 2450.3 1245.4 2452.7 1245.6 2473.7 1243.2 2476.1 1240.8 2473.7 1240.6 2452.7ZM1243.3 2495.6 1245.7 2498 1245.8 2519 1243.4 2521.4 1241 2519 1240.9 2498ZM1243.5 2540.9 1245.9 2543.3 1246.1 2564.3 1243.7 2566.7 1241.3 2564.3 1241.1 2543.3ZM1243.8 2586.2 1246.2 2588.6 1246.3 2609.6 1243.9 2612 1241.5 2609.6 1241.4 2588.6ZM1244 2631.5 1246.4 2633.9 1246.6 2654.9 1244.2 2657.3 1241.8 2654.9 1241.6 2633.9ZM1244.3 2676.8 1246.7 2679.2 1246.8 2700.2 1244.4 2702.6 1242 2700.2 1241.9 2679.2ZM1244.5 2722.1 1246.9 2724.5 1247.1 2745.5 1244.7 2747.9 1242.3 2745.5 1242.1 2724.5ZM1244.8 2767.4 1247.2 2769.8 1247.3 2790.8 1244.9 2793.2 1242.5 2790.8 1242.4 2769.8ZM1245 2812.7 1247.4 2815.1 1247.6 2836.1 1245.2 2838.5 1242.8 2836.1 1242.6 2815.1ZM1245.3 2858 1247.7 2860.4 1247.8 2881.4 1245.4 2883.8 1243 2881.4 1242.9 2860.4ZM1245.5 2903.3 1247.9 2905.7 1248.1 2926.7 1245.7 2929.1 1243.3 2926.7 1243.1 2905.7ZM1245.8 2948.6 1248.2 2951 1248.3 2972 1245.9 2974.4 1243.5 2972 1243.4 2951ZM1246 2993.9 1248.4 2996.3 1248.6 3017.3 1246.2 3019.7 1243.8 3017.3 1243.6 2996.3ZM1246.3 3039.2 1248.7 3041.6 1248.8 3062.6 1246.4 3065 1244 3062.6 1243.9 3041.6ZM1252.5 3078.6 1254.9 3076.2 1275.9 3076.4 1278.3 3078.8 1275.9 3081.2 1254.9 3081ZM1297.8 3079.2 1300.2 3076.8 1321.2 3077.4 1323.6 3079.8 1321.2 3082.2 1300.2 3081.6ZM1343.1 3080.7 1345.5 3078.3 1366.5 3079.3 1368.9 3081.7 1366.5 3084.1 1345.5 3083.1ZM1388.4 3083.1 1390.8 3080.7 1411.8 3082.2 1414.2 3084.6 1411.8 3087 1390.8 3085.5ZM1433.7 3086.7 1436.1 3084.3 1457.1 3086.4 1459.5 3088.8 1457.1 3091.2 1436.1 3089.1ZM1479 3091.6 1481.4 3089.2 1502.4 3092 1504.8 3094.4 1502.4 3096.8 1481.4 3094ZM1524.3 3098 1526.7 3095.6 1547.7 3099.2 1550.1 3101.6 1547.7 3104 1526.7 3100.4ZM1569.6 3106.1 1572 3103.7 1593 3108.1 1595.4 3110.5 1593 3112.9 1572 3108.5ZM1614.9 3115.9 1617.3 3113.5 1638.3 3118.4 1640.7 3120.8 1638.3 3123.2 1617.3 3118.3ZM1660.3 3126.9 1662.7 3124.5 1683.7 3129.9 1686.1 3132.3 1683.7 3134.7 1662.7 3129.3ZM1705.6 3138.7 1708 3136.3 1729 3141.9 1731.4 3144.3 1729 3146.7 1708 3141.1ZM1750.9 3150.8 1753.3 3148.4 1774.3 3154 1776.7 3156.4 1774.3 3158.8 1753.3 3153.2ZM1796.2 3162.7 1798.6 3160.3 1819.6 3165.6 1822 3168 1819.6 3170.4 1798.6 3165.1ZM1841.5 3173.8 1843.9 3171.4 1864.9 3176.2 1867.3 3178.6 1864.9 3181 1843.9 3176.2ZM1886.8 3183.7 1889.2 3181.3 1910.2 3185.3 1912.6 3187.7 1910.2 3190.1 1889.2 3186.1ZM1932.1 3191.9 1934.5 3189.5 1955.5 3192.7 1957.9 3195.1 1955.5 3197.5 1934.5 3194.3ZM1977.4 3198.3 1979.8 3195.9 2000.8 3198.2 2003.2 3200.6 2000.8 3203 1979.8 3200.7ZM2022.7 3202.8 2025.1 3200.4 2046.1 3201.9 2048.5 3204.3 2046.1 3206.7 2025.1 3205.2ZM2068 3205.7 2070.4 3203.3 2091.4 3204.1 2093.8 3206.5 2091.4 3208.9 2070.4 3208.1ZM2113.3 3207 2115.7 3204.6 2121.6 3204.6 2124 3207 2121.6 3209.4 2115.7 3209.4Z" fill="#C0C0C0"/>
<path d="M1241.6 2189 1244 2191.4 1244 2199.5 1241.6 2201.9 1239.2 2199.5 1239.2 2191.4ZM1241.8 2221.5 1244.2 2223.9 1244.3 2244.9 1241.9 2247.3 1239.5 2244.9 1239.4 2223.9ZM1242 2266.8 1244.4 2269.2 1244.5 2290.2 1242.1 2292.6 1239.7 2290.2 1239.6 2269.2ZM1242.3 2312.1 1244.7 2314.5 1244.8 2335.5 1242.4 2337.9 1240 2335.5 1239.9 2314.5ZM1242.5 2357.5 1244.9 2359.9 1245 2380.9 1242.6 2383.3 1240.2 2380.9 1240.1 2359.9ZM1242.8 2402.8 1245.2 2405.2 1245.3 2426.2 1242.9 2428.6 1240.5 2426.2 1240.4 2405.2ZM1243 2448.1 1245.4 2450.5 1245.5 2471.5 1243.1 2473.9 1240.7 2471.5 1240.6 2450.5ZM1243.3 2493.5 1245.7 2495.9 1245.8 2516.9 1243.4 2519.3 1241 2516.9 1240.9 2495.9ZM1243.5 2538.8 1245.9 2541.2 1246 2562.2 1243.6 2564.6 1241.2 2562.2 1241.1 2541.2ZM1243.8 2584.2 1246.2 2586.6 1246.3 2607.6 1243.9 2610 1241.5 2607.6 1241.4 2586.6ZM1244 2629.5 1246.4 2631.9 1246.5 2652.9 1244.1 2655.3 1241.7 2652.9 1241.6 2631.9ZM1244.2 2674.8 1246.6 2677.2 1246.8 2698.2 1244.4 2700.6 1242 2698.2 1241.8 2677.2ZM1244.5 2720.2 1246.9 2722.6 1247 2743.6 1244.6 2746 1242.2 2743.6 1242.1 2722.6ZM1244.7 2765.5 1247.1 2767.9 1247.3 2788.9 1244.9 2791.3 1242.5 2788.9 1242.3 2767.9ZM1245 2810.8 1247.4 2813.2 1247.5 2834.2 1245.1 2836.6 1242.7 2834.2 1242.6 2813.2ZM1245.2 2856.2 1247.6 2858.6 1247.7 2879.6 1245.3 2882 1242.9 2879.6 1242.8 2858.6ZM1245.5 2901.5 1247.9 2903.9 1248 2924.9 1245.6 2927.3 1243.2 2924.9 1243.1 2903.9ZM1245.7 2946.8 1248.1 2949.2 1248.2 2970.2 1245.8 2972.6 1243.4 2970.2 1243.3 2949.2ZM1246 2992.2 1248.4 2994.6 1248.5 3015.6 1246.1 3018 1243.7 3015.6 1243.6 2994.6ZM1246.2 3037.5 1248.6 3039.9 1248.7 3060.9 1246.3 3063.3 1243.9 3060.9 1243.8 3039.9ZM1246.5 3082.8 1248.9 3085.2 1248.9 3089.5 1246.5 3091.9 1244.1 3089.5 1244.1 3085.2ZM1244.1 3089.5 1246.5 3087.1 1263.3 3087.1 1265.7 3089.5 1263.3 3091.9 1246.5 3091.9ZM1285.2 3089.7 1287.6 3087.3 1308.6 3087.7 1311 3090.1 1308.6 3092.5 1287.6 3092.1ZM1330.5 3090.6 1332.9 3088.2 1353.9 3088.8 1356.3 3091.2 1353.9 3093.6 1332.9 3093ZM1375.9 3092 1378.3 3089.6 1399.3 3090.6 1401.7 3093 1399.3 3095.4 1378.3 3094.4ZM1421.2 3094.3 1423.6 3091.9 1444.6 3093.3 1447 3095.7 1444.6 3098.1 1423.6 3096.7ZM1466.5 3097.6 1468.9 3095.2 1489.9 3097.2 1492.3 3099.6 1489.9 3102 1468.9 3100ZM1511.9 3102.4 1514.3 3100 1535.3 3102.7 1537.7 3105.1 1535.3 3107.5 1514.3 3104.8ZM1557.2 3108.8 1559.6 3106.4 1580.6 3109.9 1583 3112.3 1580.6 3114.7 1559.6 3111.2ZM1602.5 3116.9 1604.9 3114.5 1625.9 3118.7 1628.3 3121.1 1625.9 3123.5 1604.9 3119.3ZM1647.9 3126.3 1650.3 3123.9 1671.3 3128.6 1673.7 3131 1671.3 3133.4 1650.3 3128.7ZM1693.2 3136.6 1695.6 3134.2 1716.6 3139.1 1719 3141.5 1716.6 3143.9 1695.6 3139ZM1738.6 3147.1 1741 3144.7 1762 3149.5 1764.4 3151.9 1762 3154.3 1741 3149.5ZM1783.9 3157.3 1786.3 3154.9 1807.3 3159.4 1809.7 3161.8 1807.3 3164.2 1786.3 3159.7ZM1829.2 3166.7 1831.6 3164.3 1852.6 3168.3 1855 3170.7 1852.6 3173.1 1831.6 3169.1ZM1874.6 3174.9 1877 3172.5 1898 3175.7 1900.4 3178.1 1898 3180.5 1877 3177.3ZM1919.9 3181.3 1922.3 3178.9 1943.3 3181.3 1945.7 3183.7 1943.3 3186.1 1922.3 3183.7ZM1965.2 3186 1967.6 3183.6 1988.6 3185.1 1991 3187.5 1988.6 3189.9 1967.6 3188.4ZM2010.6 3188.9 2013 3186.5 2034 3187.4 2036.4 3189.8 2034 3192.2 2013 3191.3ZM2055.9 3190.6 2058.3 3188.2 2079.3 3188.6 2081.7 3191 2079.3 3193.4 2058.3 3193ZM2101.2 3191.4 2103.6 3189 2121.6 3189.2 2124 3191.6 2121.6 3194 2103.6 3193.8Z" fill="#FF5333"/>
<path d="M1241.6 2189 1244 2191.4 1244.1 2201.4 1241.7 2203.8 1239.3 2201.4 1239.2 2191.4ZM1241.8 2223.3 1244.2 2225.7 1244.3 2246.7 1241.9 2249.1 1239.5 2246.7 1239.4 2225.7ZM1242.1 2268.6 1244.5 2271 1244.6 2292 1242.2 2294.4 1239.8 2292 1239.7 2271ZM1242.3 2313.9 1244.7 2316.3 1244.9 2337.3 1242.5 2339.7 1240.1 2337.3 1239.9 2316.3ZM1242.6 2359.2 1245 2361.6 1245.1 2382.6 1242.7 2385 1240.3 2382.6 1240.2 2361.6ZM1242.9 2404.5 1245.3 2406.9 1245.4 2427.9 1243 2430.3 1240.6 2427.9 1240.5 2406.9ZM1243.2 2449.8 1245.6 2452.2 1245.7 2473.2 1243.3 2475.6 1240.9 2473.2 1240.8 2452.2ZM1243.4 2495.1 1245.8 2497.5 1245.9 2518.5 1243.5 2520.9 1241.1 2518.5 1241 2497.5ZM1243.7 2540.4 1246.1 2542.8 1246.2 2563.8 1243.8 2566.2 1241.4 2563.8 1241.3 2542.8ZM1244 2585.7 1246.4 2588.1 1246.5 2609.1 1244.1 2611.5 1241.7 2609.1 1241.6 2588.1ZM1244.2 2631 1246.6 2633.4 1246.8 2654.4 1244.4 2656.8 1242 2654.4 1241.8 2633.4ZM1244.5 2676.3 1246.9 2678.7 1247 2699.7 1244.6 2702.1 1242.2 2699.7 1242.1 2678.7ZM1244.8 2721.6 1247.2 2724 1247.3 2745 1244.9 2747.4 1242.5 2745 1242.4 2724ZM1245 2766.9 1247.4 2769.3 1247.6 2790.3 1245.2 2792.7 1242.8 2790.3 1242.6 2769.3ZM1245.3 2812.2 1247.7 2814.6 1247.8 2835.6 1245.4 2838 1243 2835.6 1242.9 2814.6ZM1245.6 2857.5 1248 2859.9 1248.1 2880.9 1245.7 2883.3 1243.3 2880.9 1243.2 2859.9ZM1245.8 2902.8 1248.2 2905.2 1248.4 2926.2 1246 2928.6 1243.6 2926.2 1243.4 2905.2ZM1246.1 2948.1 1248.5 2950.5 1248.6 2971.5 1246.2 2973.9 1243.8 2971.5 1243.7 2950.5ZM1246.4 2993.4 1248.8 2995.8 1248.9 3013.8 1246.5 3016.2 1244.1 3013.8 1244 2995.8ZM1244.1 3013.8 1246.5 3011.4 1249.5 3011.4 1251.9 3013.8 1249.5 3016.2 1246.5 3016.2ZM1271.4 3014.5 1273.8 3012.1 1294.8 3013.4 1297.2 3015.8 1294.8 3018.2 1273.8 3016.9ZM1316.7 3018 1319.1 3015.6 1340.1 3018.1 1342.5 3020.5 1340.1 3022.9 1319.1 3020.4ZM1362 3024 1364.4 3021.6 1385.4 3025.2 1387.8 3027.6 1385.4 3030 1364.4 3026.4ZM1407.3 3032.2 1409.7 3029.8 1430.7 3034.3 1433.1 3036.7 1430.7 3039.1 1409.7 3034.6ZM1452.6 3042.4 1455 3040 1476 3045.3 1478.4 3047.7 1476 3050.1 1455 3044.8ZM1497.9 3054.4 1500.3 3052 1521.3 3058.3 1523.7 3060.7 1521.3 3063.1 1500.3 3056.8ZM1543.2 3068.5 1545.6 3066.1 1566.6 3073.3 1569 3075.7 1566.6 3078.1 1545.6 3070.9ZM1588.5 3084.5 1590.9 3082.1 1611.9 3090.1 1614.3 3092.5 1611.9 3094.9 1590.9 3086.9ZM1633.8 3102.1 1636.2 3099.7 1657.2 3108.3 1659.6 3110.7 1657.2 3113.1 1636.2 3104.5ZM1679.1 3121 1681.5 3118.6 1702.5 3127.8 1704.9 3130.2 1702.5 3132.6 1681.5 3123.4ZM1724.4 3141.1 1726.8 3138.7 1747.8 3148.5 1750.2 3150.9 1747.8 3153.3 1726.8 3143.5ZM1769.7 3162.6 1772.1 3160.2 1793.1 3170.6 1795.5 3173 1793.1 3175.4 1772.1 3165ZM1815 3185.5 1817.4 3183.1 1838.4 3194.1 1840.8 3196.5 1838.4 3198.9 1817.4 3187.9ZM1860.3 3209.5 1862.7 3207.1 1883.7 3218.5 1886.1 3220.9 1883.7 3223.3 1862.7 3211.9ZM1905.6 3233.9 1908 3231.5 1929 3242.6 1931.4 3245 1929 3247.4 1908 3236.3ZM1950.9 3257.2 1953.3 3254.8 1974.3 3264.6 1976.7 3267 1974.3 3269.4 1953.3 3259.6ZM1996.2 3277.4 1998.6 3275 2019.6 3282.9 2022 3285.3 2019.6 3287.7 1998.6 3279.8ZM2041.5 3293 2043.9 3290.6 2064.9 3295.9 2067.3 3298.3 2064.9 3300.7 2043.9 3295.4ZM2086.8 3302.6 2089.2 3300.2 2110.2 3302.3 2112.6 3304.7 2110.2 3307.1 2089.2 3305Z" fill="#FF0000"/>
<path d="M1241.6 2189 1244 2191.4 1244 2199.9 1241.6 2202.3 1239.2 2199.9 1239.2 2191.4ZM1241.8 2221.9 1244.2 2224.3 1244.3 2245.3 1241.9 2247.7 1239.5 2245.3 1239.4 2224.3ZM1242.1 2267.3 1244.5 2269.7 1244.6 2290.7 1242.2 2293.1 1239.8 2290.7 1239.7 2269.7ZM1242.3 2312.6 1244.7 2315 1244.8 2336 1242.4 2338.4 1240 2336 1239.9 2315ZM1242.6 2358 1245 2360.4 1245.1 2381.4 1242.7 2383.8 1240.3 2381.4 1240.2 2360.4ZM1242.8 2403.3 1245.2 2405.7 1245.4 2426.7 1243 2429.1 1240.6 2426.7 1240.4 2405.7ZM1243.1 2448.7 1245.5 2451.1 1245.6 2472.1 1243.2 2474.5 1240.8 2472.1 1240.7 2451.1ZM1243.4 2494.1 1245.8 2496.5 1245.9 2517.5 1243.5 2519.9 1241.1 2517.5 1241 2496.5ZM1243.6 2539.4 1246 2541.8 1246.2 2562.8 1243.8 2565.2 1241.4 2562.8 1241.2 2541.8ZM1243.9 2584.8 1246.3 2587.2 1246.4 2608.2 1244 2610.6 1241.6 2608.2 1241.5 2587.2ZM1244.2 2630.2 1246.6 2632.6 1246.7 2653.6 1244.3 2656 1241.9 2653.6 1241.8 2632.6ZM1244.4 2675.5 1246.8 2677.9 1247 2698.9 1244.6 2701.3 1242.2 2698.9 1242 2677.9ZM1244.7 2720.9 1247.1 2723.3 1247.2 2744.3 1244.8 2746.7 1242.4 2744.3 1242.3 2723.3ZM1245 2766.2 1247.4 2768.6 1247.5 2789.6 1245.1 2792 1242.7 2789.6 1242.6 2768.6ZM1245.2 2811.6 1247.6 2814 1247.8 2835 1245.4 2837.4 1243 2835 1242.8 2814ZM1245.5 2857 1247.9 2859.4 1248 2880.4 1245.6 2882.8 1243.2 2880.4 1243.1 2859.4ZM1245.8 2902.3 1248.2 2904.7 1248.3 2925.7 1245.9 2928.1 1243.5 2925.7 1243.4 2904.7ZM1246 2947.7 1248.4 2950.1 1248.5 2971.1 1246.1 2973.5 1243.7 2971.1 1243.6 2950.1ZM1246.3 2993 1248.7 2995.4 1248.8 3016.4 1246.4 3018.8 1244 3016.4 1243.9 2995.4ZM1254.9 3030.1 1257.3 3027.7 1278.3 3028.3 1280.7 3030.7 1278.3 3033.1 1257.3 3032.5ZM1300.3 3031.9 1302.7 3029.5 1323.7 3031 1326.1 3033.4 1323.7 3035.8 1302.7 3034.3ZM1345.6 3035.8 1348 3033.4 1369 3036 1371.4 3038.4 1369 3040.8 1348 3038.2ZM1391 3042 1393.4 3039.6 1414.4 3043.3 1416.8 3045.7 1414.4 3048.1 1393.4 3044.4ZM1436.3 3050.6 1438.7 3048.2 1459.7 3052.8 1462.1 3055.2 1459.7 3057.6 1438.7 3053ZM1481.7 3061.1 1484.1 3058.7 1505.1 3064.1 1507.5 3066.5 1505.1 3068.9 1484.1 3063.5ZM1527.1 3073.2 1529.5 3070.8 1550.5 3076.9 1552.9 3079.3 1550.5 3081.7 1529.5 3075.6ZM1572.4 3086.7 1574.8 3084.3 1595.8 3091 1598.2 3093.4 1595.8 3095.8 1574.8 3089.1ZM1617.8 3101.5 1620.2 3099.1 1641.2 3106.4 1643.6 3108.8 1641.2 3111.2 1620.2 3103.9ZM1663.1 3117.7 1665.5 3115.3 1686.5 3123.3 1688.9 3125.7 1686.5 3128.1 1665.5 3120.1ZM1708.5 3135.3 1710.9 3132.9 1731.9 3141.6 1734.3 3144 1731.9 3146.4 1710.9 3137.7ZM1753.9 3154.4 1756.3 3152 1777.3 3161.2 1779.7 3163.6 1777.3 3166 1756.3 3156.8ZM1799.2 3174.4 1801.6 3172 1822.6 3181.5 1825 3183.9 1822.6 3186.3 1801.6 3176.8ZM1844.6 3195 1847 3192.6 1868 3202.1 1870.4 3204.5 1868 3206.9 1847 3197.4ZM1890 3215.3 1892.4 3212.9 1913.4 3222 1915.8 3224.4 1913.4 3226.8 1892.4 3217.7ZM1935.3 3234.6 1937.7 3232.2 1958.7 3240.5 1961.1 3242.9 1958.7 3245.3 1937.7 3237ZM1980.7 3251.8 1983.1 3249.4 2004.1 3256.4 2006.5 3258.8 2004.1 3261.2 1983.1 3254.2ZM2026 3265.8 2028.4 3263.4 2049.4 3268.5 2051.8 3270.9 2049.4 3273.3 2028.4 3268.2ZM2071.4 3275.3 2073.8 3272.9 2094.8 3275.5 2097.2 3277.9 2094.8 3280.3 2073.8 3277.7ZM2116.8 3279.4 2119.2 3277 2121.6 3277.1 2124 3279.5 2121.6 3281.9 2119.2 3281.8Z" fill="#0000FF"/>
<path d="M359.2 2191.4 361.6 2189 1241.6 2189 1244 2191.4 1241.6 2193.8 361.6 2193.8ZM1241.6 2189 1244 2191.4 1248.9 3053 1246.5 3055.4 1244.1 3053 1239.2 2191.4ZM1244.1 3053 1246.5 3050.6 1280.7 3051 1283.1 3053.4 1280.7 3055.8 1246.5 3055.4ZM1278.3 3053.4 1280.7 3051 1314.9 3052.1 1317.3 3054.5 1314.9 3056.9 1280.7 3055.8ZM1312.5 3054.5 1314.9 3052.1 1334.5 3053.1 1336.9 3055.5 1334.5 3057.9 1314.9 3056.9ZM1332.1 3055.5 1334.5 3053.1 1349.2 3054.1 1351.6 3056.5 1349.2 3058.9 1334.5 3057.9ZM1346.8 3056.5 1349.2 3054.1 1363.8 3055.3 1366.2 3057.7 1363.8 3060.1 1349.2 3058.9ZM1361.4 3057.7 1363.8 3055.3 1378.5 3056.7 1380.9 3059.1 1378.5 3061.5 1363.8 3060.1ZM1376.1 3059.1 1378.5 3056.7 1393.2 3058.3 1395.6 3060.7 1393.2 3063.1 1378.5 3061.5ZM1390.8 3060.7 1393.2 3058.3 1407.8 3060.2 1410.2 3062.6 1407.8 3065 1393.2 3063.1ZM1405.4 3062.6 1407.8 3060.2 1422.5 3062.3 1424.9 3064.7 1422.5 3067.1 1407.8 3065ZM1420.1 3064.7 1422.5 3062.3 1437.2 3064.6 1439.6 3067 1437.2 3069.4 1422.5 3067.1ZM1434.8 3067 1437.2 3064.6 1451.8 3067.1 1454.2 3069.5 1451.8 3071.9 1437.2 3069.4ZM1449.4 3069.5 1451.8 3067.1 1471.4 3070.8 1473.8 3073.2 1471.4 3075.6 1451.8 3071.9ZM1469 3073.2 1471.4 3070.8 1486 3073.7 1488.4 3076.1 1486 3078.5 1471.4 3075.6ZM1483.6 3076.1 1486 3073.7 1505.6 3077.9 1508 3080.3 1505.6 3082.7 1486 3078.5ZM1503.2 3080.3 1505.6 3077.9 1525.2 3082.3 1527.6 3084.7 1525.2 3087.1 1505.6 3082.7ZM1522.8 3084.7 1525.2 3082.3 1544.7 3086.9 1547.1 3089.3 1544.7 3091.7 1525.2 3087.1ZM1542.3 3089.3 1544.7 3086.9 1583.8 3096.8 1586.2 3099.2 1583.8 3101.6 1544.7 3091.7ZM1581.4 3099.2 1583.8 3096.8 1603.4 3102 1605.8 3104.4 1603.4 3106.8 1583.8 3101.6ZM1601 3104.4 1603.4 3102 1622.9 3107.5 1625.3 3109.9 1622.9 3112.3 1603.4 3106.8ZM1620.5 3109.9 1622.9 3107.5 1657.2 3117.6 1659.6 3120 1657.2 3122.4 1622.9 3112.3ZM1654.8 3120 1657.2 3117.6 1686.5 3127 1688.9 3129.4 1686.5 3131.8 1657.2 3122.4ZM1684.1 3129.4 1686.5 3127 1720.7 3138.5 1723.1 3140.9 1720.7 3143.3 1686.5 3131.8ZM1718.3 3140.9 1720.7 3138.5 1750 3148.8 1752.4 3151.2 1750 3153.6 1720.7 3143.3ZM1747.6 3151.2 1750 3148.8 1823.4 3175.1 1825.8 3177.5 1823.4 3179.9 1750 3153.6ZM1821 3177.5 1823.4 3175.1 1847.8 3183.6 1850.2 3186 1847.8 3188.4 1823.4 3179.9ZM1845.4 3186 1847.8 3183.6 1867.4 3190.1 1869.8 3192.5 1867.4 3194.9 1847.8 3188.4ZM1865 3192.5 1867.4 3190.1 1891.8 3198.1 1894.2 3200.5 1891.8 3202.9 1867.4 3194.9ZM1889.4 3200.5 1891.8 3198.1 1911.4 3204.1 1913.8 3206.5 1911.4 3208.9 1891.8 3202.9ZM1909 3206.5 1911.4 3204.1 1935.8 3211.3 1938.2 3213.7 1935.8 3216.1 1911.4 3208.9ZM1933.4 3213.7 1935.8 3211.3 1955.4 3216.7 1957.8 3219.1 1955.4 3221.5 1935.8 3216.1ZM1953 3219.1 1955.4 3216.7 1979.8 3222.9 1982.2 3225.3 1979.8 3227.7 1955.4 3221.5ZM1977.4 3225.3 1979.8 3222.9 1999.4 3227.3 2001.8 3229.7 1999.4 3232.1 1979.8 3227.7ZM1997 3229.7 1999.4 3227.3 2023.8 3232.2 2026.2 3234.6 2023.8 3237 1999.4 3232.1ZM2021.4 3234.6 2023.8 3232.2 2043.4 3235.5 2045.8 3237.9 2043.4 3240.3 2023.8 3237ZM2041 3237.9 2043.4 3235.5 2062.9 3238.2 2065.3 3240.6 2062.9 3243 2043.4 3240.3ZM2060.5 3240.6 2062.9 3238.2 2082.5 3240.1 2084.9 3242.5 2082.5 3244.9 2062.9 3243ZM2080.1 3242.5 2082.5 3240.1 2102 3241.3 2104.4 3243.7 2102 3246.1 2082.5 3244.9ZM2099.6 3243.7 2102 3241.3 2121.6 3241.6 2124 3244 2121.6 3246.4 2102 3246.1Z" fill="#000"/>
</g>
<g font-family="'Liberation Sans', Arial, sans-serif" font-size="66" text-anchor="end" stroke="#fff" stroke-width="0.5">
<text x="328.0" y="2207.9">1.0</text>
<text x="328.0" y="2444.8">0.5</text>
<text x="328.0" y="2681.7">0.0</text>
<text x="329.9" y="2918.6"><tspan dx="-1.9" dy="1.9">−</tspan><tspan dx="1.9" dy="-1.9">0.5</tspan></text>
<text x="329.9" y="3155.5"><tspan dx="-1.9" dy="1.9">−</tspan><tspan dx="1.9" dy="-1.9">1.0</tspan></text>
<text x="329.9" y="3392.4"><tspan dx="-1.9" dy="1.9">−</tspan><tspan dx="1.9" dy="-1.9">1.5</tspan></text>
</g>
<g font-family="'Liberation Sans', Arial, sans-serif" font-size="66" text-anchor="middle" stroke="#fff" stroke-width="0.5">
<text x="360.1" y="3575.9">0</text>
<text x="653.4" y="3575.9">60</text>
<text x="946.8" y="3575.9">120</text>
<text x="1240.1" y="3575.9">180</text>
<text x="1533.4" y="3575.9">240</text>
<text x="1826.8" y="3575.9">300</text>
<text x="2120.1" y="3575.9">360</text>
</g>
<rect x="410.4" y="2998.8" width="675.0" height="450.1" fill="#fff" stroke="#000" stroke-width="1.6"/>
<g font-family="'Liberation Serif', 'Times New Roman', serif" font-size="66">
<path d="M418.9 3046 421.3 3043.6 442.3 3043.6 444.7 3046 442.3 3048.4 421.3 3048.4ZM464.2 3046 466.6 3043.6 487.6 3043.6 490 3046 487.6 3048.4 466.6 3048.4ZM509.5 3046 511.9 3043.6 532.9 3043.6 535.3 3046 532.9 3048.4 511.9 3048.4ZM554.8 3046 557.2 3043.6 572.9 3043.6 575.3 3046 572.9 3048.4 557.2 3048.4Z" fill="#C0C0C0"/>
<text x="589.6" y="3068.3">Design number 1</text>
<path d="M418.9 3130.7 421.3 3128.3 442.3 3128.3 444.7 3130.7 442.3 3133.1 421.3 3133.1ZM464.2 3130.7 466.6 3128.3 487.6 3128.3 490 3130.7 487.6 3133.1 466.6 3133.1ZM509.5 3130.7 511.9 3128.3 532.9 3128.3 535.3 3130.7 532.9 3133.1 511.9 3133.1ZM554.8 3130.7 557.2 3128.3 572.9 3128.3 575.3 3130.7 572.9 3133.1 557.2 3133.1Z" fill="#FF5333"/>
<text x="589.6" y="3153.0">Design number 6</text>
<path d="M418.9 3215.4 421.3 3213 442.3 3213 444.7 3215.4 442.3 3217.8 421.3 3217.8ZM464.2 3215.4 466.6 3213 487.6 3213 490 3215.4 487.6 3217.8 466.6 3217.8ZM509.5 3215.4 511.9 3213 532.9 3213 535.3 3215.4 532.9 3217.8 511.9 3217.8ZM554.8 3215.4 557.2 3213 572.9 3213 575.3 3215.4 572.9 3217.8 557.2 3217.8Z" fill="#FF0000"/>
<text x="589.6" y="3237.7">Design number 11</text>
<path d="M418.9 3300.1 421.3 3297.7 442.3 3297.7 444.7 3300.1 442.3 3302.5 421.3 3302.5ZM464.2 3300.1 466.6 3297.7 487.6 3297.7 490 3300.1 487.6 3302.5 466.6 3302.5ZM509.5 3300.1 511.9 3297.7 532.9 3297.7 535.3 3300.1 532.9 3302.5 511.9 3302.5ZM554.8 3300.1 557.2 3297.7 572.9 3297.7 575.3 3300.1 572.9 3302.5 557.2 3302.5Z" fill="#0000FF"/>
<text x="589.6" y="3322.4">Design number 16</text>
<path d="M418.9 3384.8 421.3 3382.4 572.9 3382.4 575.3 3384.8 572.9 3387.2 421.3 3387.2Z" fill="#000"/>
<text x="588.6" y="3407.1" font-style="italic">i</text>
<text x="607.6" y="3434.3" font-size="53">31</text>
<text x="680.6" y="3407.1">- Theoretical</text>
</g>
<g transform="translate(98.0 3259.0) rotate(-90)" font-family="'Liberation Serif', 'Times New Roman', serif" font-size="85">
<text x="0" y="0" textLength="797.0" lengthAdjust="spacing">Real transmission ratio</text>
<text x="820.0" y="0" font-style="italic">i</text>
<text x="843.5" y="35.6" font-size="68">3</text>
<text x="878.5" y="35.6" font-size="68">1</text>
</g>
<g font-family="'Liberation Serif', 'Times New Roman', serif" font-size="85" text-anchor="middle">
<text x="1240.7" y="3706.7" font-size="85.5">Input angle (deg)</text>
<text x="1250.5" y="3811.5">(b)</text>
</g>
</svg></body></html>
